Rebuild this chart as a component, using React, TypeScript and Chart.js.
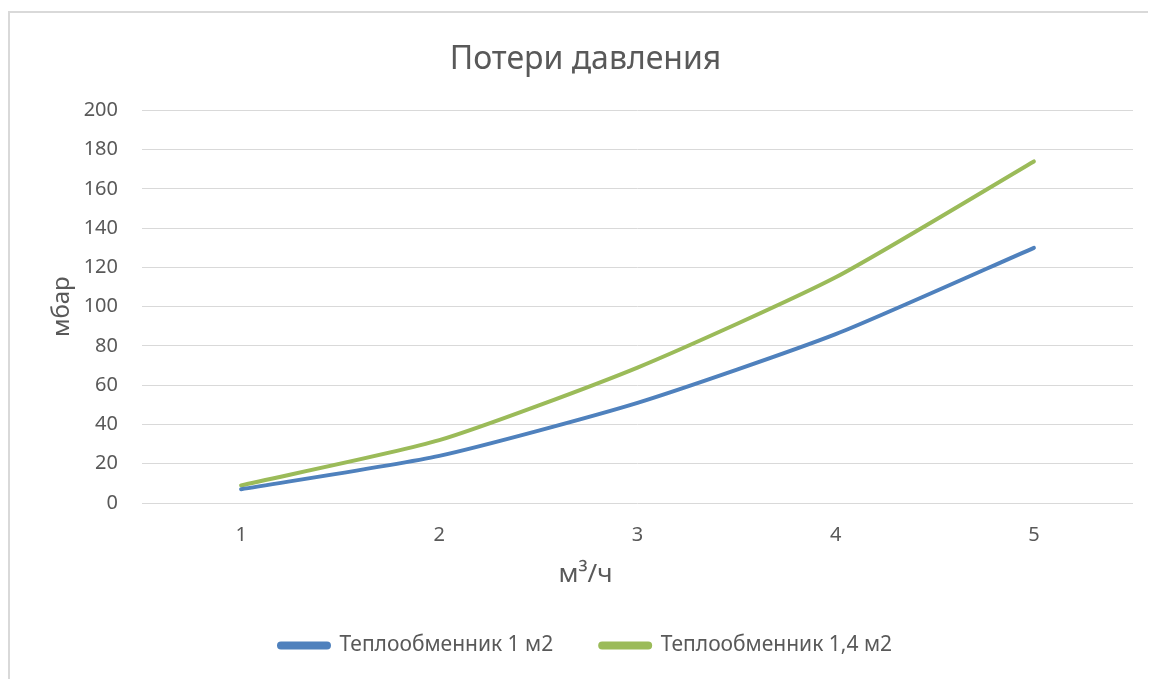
import React, { useEffect, useRef } from "react";
import { Chart, registerables } from "chart.js";

Chart.register(...registerables);

const categories = ["1", "2", "3", "4", "5"];
const series1Label = "Теплообменник 1 м2";
const series1Values = [7, 24, 51, 86, 130];
const series2Label = "Теплообменник 1,4 м2";
const series2Values = [9, 32, 69, 115, 174];
const yTicks = [0, 20, 40, 60, 80, 100, 120, 140, 160, 180, 200];
const xTitle = "м³/ч";
const yTitle = "мбар";
const chartTitle = "Потери давления";

const FONT = "'Noto Sans', 'Open Sans', sans-serif";
const TEXT = "#595959";

const xTitlePlugin = {
  id: "xTitleCentered",
  afterDraw(chart: any) {
    const ctx = chart.ctx;
    const tb = chart.titleBlock;
    const cx = tb ? (tb.left + tb.right) / 2 : chart.width / 2;
    const y = chart.scales.x.top + 72;
    ctx.save();
    ctx.font = `26px ${FONT}`;
    ctx.fillStyle = TEXT;
    ctx.textAlign = "center";
    ctx.textBaseline = "middle";
    ctx.fillText(xTitle, cx, y);
    ctx.restore();
  },
};

export default function App() {
  const ref = useRef<HTMLCanvasElement | null>(null);

  useEffect(() => {
    document.documentElement.style.overflow = "hidden";
    document.body.style.overflow = "hidden";
    if (!ref.current) return;
    const chart = new Chart(ref.current, {
      type: "line",
      data: {
        labels: categories,
        datasets: [
          {
            label: series1Label,
            data: series1Values,
            borderColor: "#4F81BD",
            backgroundColor: "#4F81BD",
            borderWidth: 4,
            pointRadius: 0,
            tension: 0.2,
            borderCapStyle: "round",
            borderJoinStyle: "round",
          },
          {
            label: series2Label,
            data: series2Values,
            borderColor: "#9BBB59",
            backgroundColor: "#9BBB59",
            borderWidth: 4,
            pointRadius: 0,
            tension: 0.2,
            borderCapStyle: "round",
            borderJoinStyle: "round",
          },
        ],
      },
      plugins: [xTitlePlugin],
      options: {
        animation: false,
        responsive: false,
        maintainAspectRatio: false,
        layout: { padding: { left: 28, right: 35, top: 0, bottom: 16 } },
        plugins: {
          title: {
            display: true,
            text: chartTitle,
            color: TEXT,
            font: { family: FONT, size: 32, weight: "normal" },
            padding: { top: 28, bottom: 31 },
          },
          legend: {
            position: "bottom",
            labels: {
              color: TEXT,
              font: { family: FONT, size: 21 },
              boxWidth: 50,
              boxHeight: 4,
              padding: 47,
              useBorderRadius: true,
              borderRadius: 2,
            },
          },
          tooltip: { enabled: false },
        },
        scales: {
          x: {
            offset: true,
            afterFit: (scale: any) => {
              scale.height = 85;
            },
            grid: { display: false, drawTicks: false },
            border: { display: false },
            ticks: {
              color: TEXT,
              font: { family: FONT, size: 20 },
              padding: 20,
            },
            title: { display: false },
          },
          y: {
            min: 0,
            max: 200,
            afterBuildTicks: (scale: any) => {
              scale.ticks = yTicks.map((v) => ({ value: v }));
            },
            afterFit: (scale: any) => {
              scale.width = 104;
            },
            grid: { color: "#d9d9d9", lineWidth: 1, drawTicks: false },
            border: { display: false },
            ticks: {
              color: TEXT,
              font: { family: FONT, size: 20 },
              padding: 24,
            },
            title: {
              display: true,
              text: yTitle,
              color: TEXT,
              font: { family: FONT, size: 24 },
              padding: { top: 10, bottom: 0 },
            },
          },
        },
      },
    });
    return () => chart.destroy();
  }, []);

  return (
    <div
      style={{
        position: "relative",
        top: 3,
        width: 1160,
        height: 671,
        boxSizing: "border-box",
        borderLeft: "2px solid #d9d9d9",
        borderTop: "2px solid #d9d9d9",
        background: "#fff",
      }}
    >
      <canvas ref={ref} width={1158} height={669} style={{ display: "block" }} />
    </div>
  );
}
